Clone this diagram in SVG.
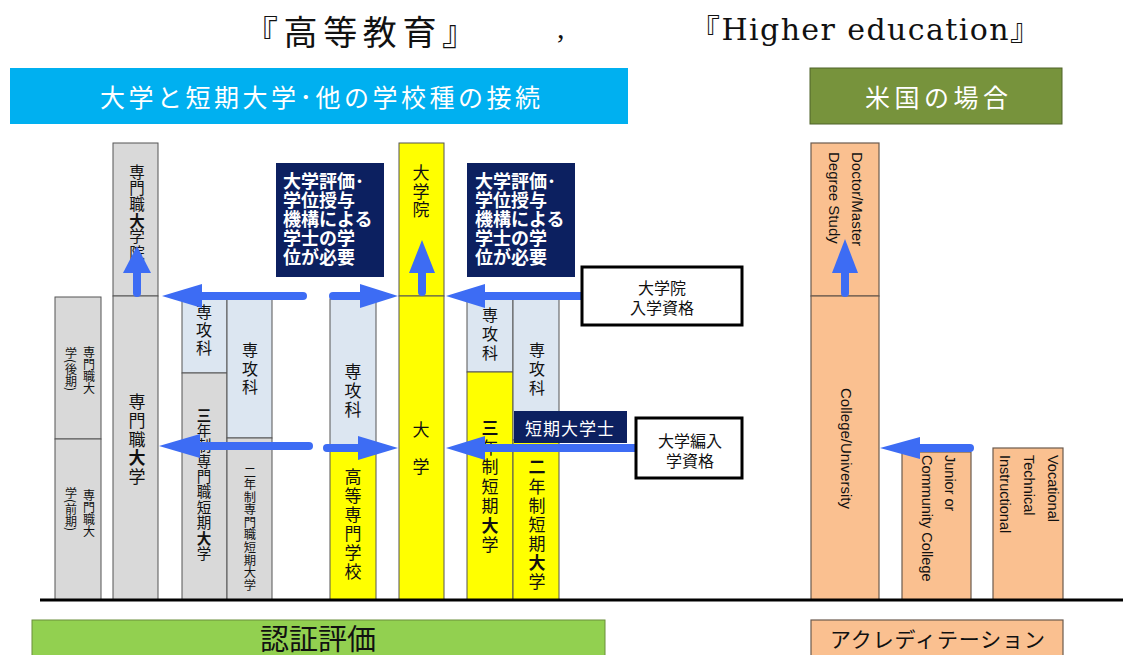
<svg xmlns="http://www.w3.org/2000/svg" width="1123" height="655" viewBox="0 0 1123 655">
<style>
.bg{fill:#ffffff}
.gray{fill:#d9d9d9;stroke:#555;stroke-width:1}
.sk{fill:#dce6f1;stroke:#555;stroke-width:1}
.yel{fill:#ffff00;stroke:#555;stroke-width:1}
.peach{fill:#fac090;stroke:#6b5a4e;stroke-width:1.2}
.navy{fill:#0c2060}
.wbox{fill:#ffffff;stroke:#000;stroke-width:3}
.v{font-family:"Noto Sans CJK JP","Noto Sans CJK SC",sans-serif;text-anchor:middle;dominant-baseline:central;fill:#111}
.vt{font-family:"Noto Sans CJK JP","Noto Sans CJK SC",sans-serif;writing-mode:vertical-rl;text-anchor:start;fill:#111}
.b{font-weight:bold}
.en{font-family:"Liberation Sans",Arial,sans-serif;font-size:15px;fill:#111}
.nt{font-family:"Noto Sans CJK JP",sans-serif;font-size:18px;font-weight:bold;fill:#fff}
.jp{font-family:"Noto Sans CJK JP",sans-serif}
.shaft{stroke:#3d6cf4;stroke-width:8;stroke-linecap:round;fill:none}
.head{fill:#3d6cf4}
</style>
<rect class="bg" x="0" y="0" width="1123" height="655"/>

<g id="title">
<text x="244" y="30" class="jp" font-size="34" dominant-baseline="central" fill="#111" textLength="232" lengthAdjust="spacing">『高等教育』</text>
<text x="557" y="38" font-family="Liberation Serif,serif" font-size="30" fill="#111">,</text>
<text x="690" y="40" font-family="'DejaVu Serif','Noto Sans CJK JP',serif" font-size="30" fill="#111" textLength="350" lengthAdjust="spacing">『Higher education』</text>
</g>

<g id="banner-jp">
<rect x="10" y="68" width="618" height="56" fill="#00b0f0"/>
<text x="100" y="96" class="jp" font-size="25" fill="#fff" dominant-baseline="central" textLength="440" lengthAdjust="spacing">大学と短期大学･他の学校種の接続</text>
</g>
<g id="banner-us">
<rect x="810" y="68" width="252" height="56" fill="#77933c" stroke="#4f6228" stroke-width="1"/>
<text x="865" y="96" class="jp" font-size="25" fill="#fff" dominant-baseline="central" textLength="143" lengthAdjust="spacing">米国の場合</text>
</g>

<g id="col-senmonshoku-small">
<rect class="gray" x="55" y="297" width="46" height="142"/>
<rect class="gray" x="55" y="439" width="46" height="161"/>
<text class="vt" font-size="12" x="89" y="346">専門職大</text>
<text class="vt" font-size="12" x="71" y="347">学(後期)</text>
<text class="vt" font-size="12" x="89" y="489">専門職大</text>
<text class="vt" font-size="12" x="71" y="487">学(前期)</text>
</g>

<g id="col-senmonshoku">
<rect class="gray" x="113" y="143" width="45" height="153"/>
<rect class="gray" x="113" y="296" width="45" height="304"/>
<text class="vt" font-size="15.5" x="137" y="164" letter-spacing="0.7">専門職<tspan class="b">大</tspan>学院</text>
<text class="vt" font-size="17" x="137" y="393.5" letter-spacing="1.75">専門職<tspan class="b">大</tspan>学</text>
</g>

<g id="col-3nen-senmonshoku">
<rect class="sk" x="182" y="299" width="45" height="74"/>
<rect class="gray" x="182" y="373" width="45" height="227"/>
<text class="vt" font-size="16" x="204" y="304" letter-spacing="2">専攻科</text>
<text class="vt" font-size="14.5" x="204" y="407.75" letter-spacing="0.83"><tspan class="b">三</tspan>年制専門職短期<tspan class="b">大</tspan>学</text>
</g>

<g id="col-2nen-senmonshoku">
<rect class="sk" x="227" y="299" width="45" height="139"/>
<rect class="gray" x="227" y="438" width="45" height="162"/>
<text class="vt" font-size="16" x="250" y="342" letter-spacing="2.5">専攻科</text>
<text class="vt" font-size="12.3" x="250" y="465.85" letter-spacing="0.26">二年制専門職短期大学</text>
</g>

<g id="col-kosen">
<rect class="sk" x="330" y="299" width="46" height="151"/>
<rect class="yel" x="330" y="450" width="46" height="150"/>
<text class="vt" font-size="17" x="353" y="363.5" letter-spacing="2">専攻科</text>
<text class="vt" font-size="17" x="353" y="468.5" letter-spacing="2">高等専門学校</text>
</g>

<g id="col-daigaku">
<rect class="yel" x="399" y="143" width="45" height="153"/>
<rect class="yel" x="399" y="296" width="45" height="304"/>
<text class="vt" font-size="17" x="421" y="164.5" letter-spacing="1.5">大学院</text>
<text class="vt" font-size="17" x="421" y="421.5" letter-spacing="20">大学</text>
</g>

<g id="col-3nen-tandai">
<rect class="sk" x="467" y="299" width="46" height="73"/>
<rect class="yel" x="467" y="372" width="46" height="228"/>
<text class="vt" font-size="16" x="490" y="307" letter-spacing="3">専攻科</text>
<text class="vt" font-size="17" x="490" y="419.5" letter-spacing="2.5"><tspan class="b">三</tspan>年制短期<tspan class="b">大</tspan>学</text>
</g>

<g id="col-2nen-tandai">
<rect class="sk" x="513" y="299" width="46" height="141"/>
<rect class="yel" x="513" y="440" width="46" height="160"/>
<text class="vt" font-size="16" x="537" y="342" letter-spacing="3">専攻科</text>
<text class="vt" font-size="17" x="537" y="458.5" letter-spacing="2.17"><tspan class="b">二</tspan>年制短期<tspan class="b">大</tspan>学</text>
</g>

<g id="col-us-university">
<rect class="peach" x="811" y="143" width="68" height="153"/>
<rect class="peach" x="811" y="296" width="68" height="304"/>
<text class="en" transform="translate(852,152) rotate(90)"><tspan x="0" y="0">Doctor/Master</tspan><tspan x="0" y="23">Degree Study</tspan></text>
<text class="en" transform="translate(841,388) rotate(90)">College/University</text>
</g>
<g id="col-us-junior">
<rect class="peach" x="902" y="452" width="69" height="148"/>
<text class="en" transform="translate(945,455) rotate(90)" style="font-size:14.5px"><tspan x="0" y="0">Junior  or</tspan><tspan x="0" y="23">Community College</tspan></text>
</g>
<g id="col-us-vocational">
<rect class="peach" x="993" y="448" width="70" height="152"/>
<text class="en" transform="translate(1048,455) rotate(90)" style="font-size:14.5px"><tspan x="0" y="0">Vocational</tspan><tspan x="0" y="24">Technical</tspan><tspan x="0" y="48">Instructional</tspan></text>
</g>

<g id="baseline">
<line x1="40" y1="600" x2="1123" y2="600" stroke="#000" stroke-width="3"/>
</g>

<g id="connectors">
<line class="shaft" x1="303" y1="296" x2="198" y2="296"/>
<polygon class="head" points="162,296 202,284 202,308"/>
<line class="shaft" x1="333" y1="296" x2="364" y2="296"/>
<polygon class="head" points="398,296 360,284 360,308"/>
<line class="shaft" x1="585" y1="296" x2="482" y2="296"/>
<polygon class="head" points="446,296 485,284 485,308"/>
<line class="shaft" x1="137" y1="293" x2="137" y2="270"/>
<polygon class="head" points="137,246 123,273 151,273"/>
<line class="shaft" x1="422" y1="292" x2="422" y2="270"/>
<polygon class="head" points="422,240 409,273 435,273"/>
<line class="shaft" x1="845" y1="293" x2="845" y2="270"/>
<polygon class="head" points="845,239 832,273 858,273"/>
<line class="shaft" x1="309" y1="446" x2="198" y2="446"/>
<polygon class="head" points="159,446 200,434 200,458"/>
<line class="shaft" x1="327" y1="448" x2="362" y2="448"/>
<polygon class="head" points="398,448 358,436 358,460"/>
<line class="shaft" x1="640" y1="448" x2="482" y2="448"/>
<polygon class="head" points="446,448 485,436 485,460"/>
<line class="shaft" x1="970" y1="448" x2="918" y2="448"/>
<polygon class="head" points="880,448 920,437 920,459"/>
</g>

<g id="note-left">
<rect class="navy" x="276" y="163" width="108" height="114"/>
<text class="nt"><tspan x="283" y="188">大学評価･</tspan><tspan x="283" y="207">学位授与</tspan><tspan x="283" y="226">機構による</tspan><tspan x="283" y="245">学士の学</tspan><tspan x="283" y="264">位が必要</tspan></text>
</g>
<g id="note-right">
<rect class="navy" x="467" y="163" width="108" height="114"/>
<text class="nt"><tspan x="475" y="188">大学評価･</tspan><tspan x="475" y="207">学位授与</tspan><tspan x="475" y="226">機構による</tspan><tspan x="475" y="245">学士の学</tspan><tspan x="475" y="264">位が必要</tspan></text>
</g>
<g id="tandaigakushi">
<rect class="navy" x="514" y="411" width="113" height="32"/>
<text x="570" y="427" class="jp" font-size="17" fill="#fff" text-anchor="middle" dominant-baseline="central" letter-spacing="1">短期大学士</text>
</g>
<g id="box-daigakuin-nyugaku">
<rect class="wbox" x="582" y="267" width="160" height="58"/>
<text class="v" font-size="16"><tspan x="662" y="287">大学院</tspan><tspan x="662" y="307">入学資格</tspan></text>
</g>
<g id="box-hennyu">
<rect class="wbox" x="636" y="418" width="106" height="60"/>
<text class="v" font-size="16"><tspan x="690" y="440">大学編入</tspan><tspan x="690" y="460">学資格</tspan></text>
</g>

<g id="ninsho">
<rect x="32" y="620" width="573" height="40" fill="#92d050" stroke="#6b8e3a" stroke-width="1"/>
<text x="318" y="637" class="jp" font-size="29" text-anchor="middle" dominant-baseline="central" fill="#111">認証評価</text>
</g>
<g id="accreditation">
<rect x="811" y="620" width="252" height="40" fill="#fac090" stroke="#6b5a4e" stroke-width="1.2"/>
<text x="830" y="638" class="jp" font-size="21" dominant-baseline="central" fill="#111" textLength="215" lengthAdjust="spacing">アクレディテーション</text>
</g>
</svg>
